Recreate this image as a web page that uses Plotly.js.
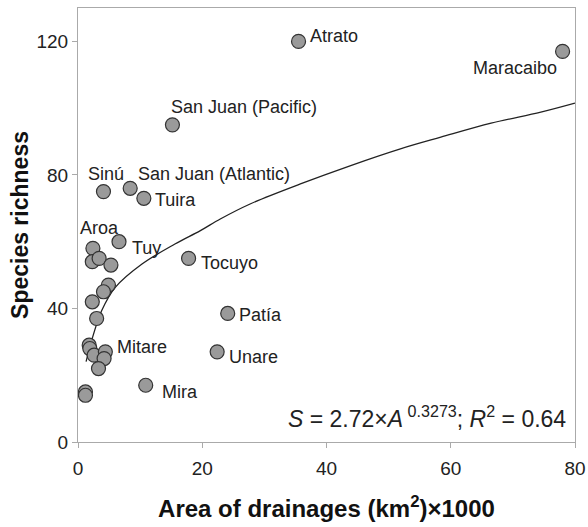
<!DOCTYPE html>
<html>
<head>
<meta charset="utf-8">
<script src="https://cdn.plot.ly/plotly-3.0.1.min.js"></script>
<style>html,body{margin:0;padding:0;background:#fff;}#chart{width:588px;height:527px;}</style>
</head>
<body>
<div id="chart"></div>
<script>
// Drainage area (km2 x 1000) and species richness
const areaX = [35.5, 78.0, 15.2, 4.1, 8.4, 10.6, 6.6, 2.4, 2.3, 3.4, 5.3, 4.9, 4.1, 2.3, 3.0, 1.8, 1.9, 2.6, 4.4, 4.2, 3.3, 1.2, 1.2, 10.9, 17.8, 24.1, 22.4];
const richY = [120, 117, 95, 75, 76, 73, 60, 58, 54, 55, 53, 47, 45, 42, 37, 29, 28, 26, 27, 25, 22, 15, 14, 17, 55, 38.5, 27];

// Labelled drainages
const labelNames = ["Atrato", "Maracaibo", "San Juan (Pacific)", "Sinú", "San Juan (Atlantic)", "Tuira", "Tuy", "Aroa", "Tocuyo", "Patía", "Unare", "Mitare", "Mira"];
const labelX = [35.5, 78.0, 15.2, 4.1, 8.4, 10.6, 6.6, 2.4, 17.8, 24.1, 22.4, 4.4, 10.9];
const labelY = [120, 117, 95, 75, 76, 73, 60, 58, 55, 38.5, 27, 27, 17];

// Fitted curve as drawn
const curveX = [1.3, 2.5, 3.8, 6.0, 10.3, 15.6, 19.7, 22.9, 27.7, 35.8, 43.9, 51.9, 58.4, 66.5, 74.5, 80.0];
const curveY = [24.1, 32.3, 39.3, 46.3, 53.3, 59.3, 63.3, 66.8, 71.3, 77.3, 82.8, 87.8, 91.3, 95.5, 98.8, 101.5];

const xTicks = [0, 20, 40, 60, 80];
const yTicks = [0, 40, 80, 120];

// label placement (style only)
const lblStyle = {
  "Atrato": {xa: "left", xs: 9, ys: 5},
  "Maracaibo": {xa: "right", xs: -4, ys: -17},
  "San Juan (Pacific)": {xa: "left", xs: -3, ys: 18},
  "Sinú": {xa: "center", xs: 3, ys: 18},
  "San Juan (Atlantic)": {xa: "left", xs: 6, ys: 14},
  "Tuira": {xa: "left", xs: 9, ys: -2},
  "Tuy": {xa: "left", xs: 11, ys: -6},
  "Aroa": {xa: "center", xs: 7, ys: 20},
  "Tocuyo": {xa: "left", xs: 10, ys: -5},
  "Patía": {xa: "left", xs: 9, ys: -2},
  "Unare": {xa: "left", xs: 10, ys: -5},
  "Mitare": {xa: "left", xs: 10, ys: 5},
  "Mira": {xa: "left", xs: 14, ys: -7}
};

const FONT = "Liberation Sans, Arial, sans-serif";

const annotations = labelNames.map((n, i) => ({
  x: labelX[i], y: labelY[i], xref: "x", yref: "y",
  text: n, showarrow: false,
  xanchor: lblStyle[n].xa, yanchor: "middle",
  xshift: lblStyle[n].xs, yshift: lblStyle[n].ys,
  font: {family: FONT, size: 18, color: "#222"}
}));
annotations.push({
  xref: "paper", yref: "paper", x: 0.985, y: 0.058,
  xanchor: "right", yanchor: "middle", showarrow: false,
  text: "<i>S</i> = 2.72×<i>A</i><sup> 0.3273</sup>; <i>R</i><sup>2</sup> = 0.64",
  font: {family: FONT, size: 23, color: "#222"}
});

const traces = [
  {x: curveX, y: curveY, type: "scatter", mode: "lines",
   line: {color: "#222", width: 1.3, shape: "spline"}, hoverinfo: "skip"},
  {x: areaX, y: richY, type: "scatter", mode: "markers",
   marker: {size: 14, color: "#9a9a9a", line: {color: "#333", width: 1.2}}}
];

const layout = {
  width: 588, height: 527,
  margin: {l: 78, r: 13, t: 8, b: 85},
  paper_bgcolor: "#fff", plot_bgcolor: "#fff",
  showlegend: false,
  font: {family: FONT, color: "#222"},
  xaxis: {
    range: [0, 80], tickvals: xTicks, ticktext: xTicks.map(String),
    showgrid: false, zeroline: false,
    showline: true, linecolor: "#aaa", linewidth: 1, mirror: true,
    ticks: "outside", ticklen: 5, tickcolor: "#aaa",
    ticklabelstandoff: 4,
    tickfont: {family: FONT, size: 19, color: "#222"},
    title: {text: "<b>Area of drainages (km<sup>2</sup>)×1000</b>", font: {family: FONT, size: 24, color: "#111"}, standoff: 22}
  },
  yaxis: {
    range: [0, 130], tickvals: yTicks, ticktext: yTicks.map(String),
    showgrid: false, zeroline: false,
    showline: true, linecolor: "#aaa", linewidth: 1, mirror: true,
    ticks: "outside", ticklen: 5, tickcolor: "#aaa",
    tickfont: {family: FONT, size: 19, color: "#222"},
    title: {text: "<b>Species richness</b>", font: {family: FONT, size: 23, color: "#111"}, standoff: 1}
  },
  annotations: annotations
};

Plotly.newPlot("chart", traces, layout, {staticPlot: true, displayModeBar: false});
</script>
</body>
</html>
